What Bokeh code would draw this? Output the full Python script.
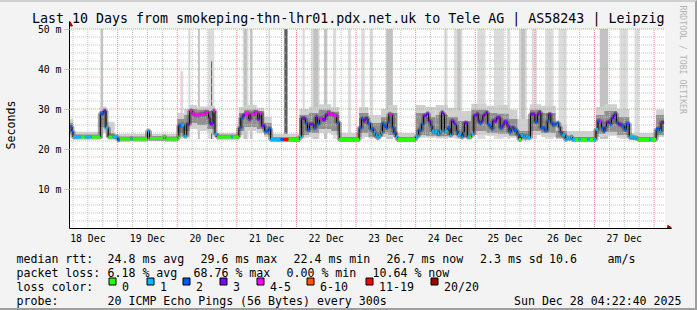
import math
from bokeh.plotting import figure
from bokeh.layouts import column
from bokeh.models import Range1d, FixedTicker, Title, ColumnDataSource
from bokeh.core.properties import value
from bokeh.embed import file_html
from bokeh.resources import INLINE

# ---------------- data (time in hours since 18 Dec 00:00) ----------------
T_START = 4 + 22 / 60 + 40 / 3600          # Thu 18 Dec 04:22:40
T_END = T_START + 240                      # Sun 28 Dec 04:22:40

day_labels = ["18 Dec", "19 Dec", "20 Dec", "21 Dec", "22 Dec",
              "23 Dec", "24 Dec", "25 Dec", "26 Dec", "27 Dec"]
day_label_hours = [12, 36, 60, 84, 108, 132, 156, 180, 204, 228]
y_ticks = [0, 10, 20, 30, 40, 50]
y_tick_labels = ["0\u00a0\u00a0", "10 m", "20 m", "30 m", "40 m", "50 m"]

# median rtt (ms) steps: start hour, value, lost pings (of 20)
med_t = [4.4, 5.6, 6.0, 9.2, 10.8, 13.6, 17.0, 18.4, 19.3, 20.2, 22.0, 24.0, 24.8, 29.2, 30.0,
         36.0, 36.8, 42.4, 43.2, 48.2, 48.6, 49.6, 50.8, 51.8, 53.0, 54.0, 54.8, 57.2, 59.2,
         60.6, 61.2, 62.4, 63.2, 64.0, 69.6, 70.4, 72.8, 73.6, 74.4, 75.2, 76.8, 77.6, 79.2,
         80.4, 81.2, 82.0, 83.2, 84.8, 85.6, 89.6, 90.8, 92.8, 97.2, 98.0, 99.6, 100.4, 101.2,
         103.0, 103.8, 104.4, 105.2, 106.4, 107.6, 108.4, 109.2, 111.0, 112.2, 113.2, 121.2,
         122.2, 122.8, 123.6, 124.8, 125.8, 127.0, 127.8, 128.4, 129.2, 130.0, 130.6, 131.2,
         132.0, 132.6, 133.2, 134.0, 134.6, 135.2, 136.0, 136.6, 144.0, 144.8, 145.2, 146.4,
         147.2, 148.4, 149.2, 150.0, 150.6, 151.6, 152.8, 153.6, 154.4, 155.0, 155.6, 157.0,
         157.8, 158.4, 159.2, 159.8, 160.4, 161.0, 161.8, 162.4, 163.0, 163.6, 164.8, 165.6,
         166.4, 167.4, 168.4, 169.2, 169.8, 170.4, 171.0, 171.8, 172.4, 173.0, 173.6, 174.4,
         175.0, 176.6, 178.0, 178.8, 179.6, 180.8, 181.6, 182.4, 183.0, 183.6, 184.8, 185.6,
         186.4, 187.4, 188.0, 188.4, 189.2, 190.2, 192.0, 193.0, 193.6, 194.4, 196.0, 197.0,
         197.6, 198.4, 199.2, 199.6, 200.8, 201.6, 202.2, 203.0, 204.2, 204.8, 205.6, 206.4,
         207.0, 208.2, 209.6, 210.4, 213.2, 214.0, 215.6, 216.6, 217.4, 218.0, 218.8, 219.6,
         220.2, 220.8, 221.6, 222.2, 222.8, 223.6, 224.2, 224.8, 225.6, 226.8, 228.0, 228.8,
         230.0, 231.6, 232.8, 233.6, 238.0, 238.8, 240.8, 241.6, 242.2, 242.8]
med_ms = [25.5, 24.5, 23.0, 23.0, 23.0, 23.0, 28.8, 29.5, 25.3, 23.0, 23.0, 22.3, 22.5, 22.6, 22.5,
          24.5, 22.6, 23.0, 22.5, 23.0, 25.8, 26.0, 23.2, 26.2, 29.5, 28.8, 28.5, 28.7, 29.2,
          27.8, 26.3, 29.5, 23.7, 23.0, 23.0, 23.0, 25.3, 27.7, 28.4, 28.8, 27.5, 28.7, 29.2,
          27.5, 28.8, 25.8, 24.5, 25.0, 22.4, 22.4, 22.4, 22.4, 23.0, 27.6, 26.5, 24.8, 26.2,
          25.3, 28.0, 26.3, 27.6, 27.4, 28.4, 29.0, 28.7, 28.4, 26.6, 22.4, 25.3,
          27.6, 27.0, 27.6, 26.3, 25.0, 24.1, 23.3, 22.8, 23.3, 24.1, 26.3, 25.8,
          25.3, 26.6, 28.7, 28.5, 25.3, 24.1, 23.0, 22.4, 23.0, 23.3, 24.7, 26.2,
          28.3, 28.8, 27.0, 25.8, 24.5, 24.3, 23.8, 24.5, 29.1, 28.7, 24.5, 25.3,
          23.5, 27.0, 26.5, 26.0, 24.5, 23.5, 23.8, 23.0, 24.2, 26.5, 23.0, 23.0,
          23.7, 28.3, 28.7, 27.0, 26.5, 27.0, 28.3, 28.7, 29.1, 26.3, 25.8, 25.1,
          27.0, 27.8, 25.3, 26.0, 26.8, 25.8, 24.3, 25.3, 25.3, 24.7, 23.7, 22.4,
          23.4, 23.0, 22.7, 23.2, 22.8, 28.7, 26.8, 28.7, 29.1, 25.3, 24.7, 27.0,
          28.7, 26.5, 26.0, 26.2, 26.5, 25.5, 24.1, 23.5, 22.4, 22.8, 22.6, 23.0,
          22.4, 22.4, 22.4, 22.4, 22.4, 22.4, 22.4, 24.9, 27.0, 26.8, 25.3, 24.5,
          25.5, 26.6, 26.8, 26.3, 27.7, 28.4, 28.8, 26.6, 26.2, 25.8, 24.9, 26.3,
          23.0, 22.8, 22.6, 22.4, 22.4, 22.4, 24.9, 25.1, 24.5, 26.6]
med_loss = [2, 2, 1, 0, 1, 0, 2, 3, 1, 0, 1, 2, 0, 1, 0,
            1, 0, 0, 0, 0, 2, 1, 1, 3, 4, 4, 4, 4, 4,
            3, 3, 4, 1, 0, 1, 0, 2, 2, 3, 4, 3, 4, 4,
            3, 4, 3, 2, 2, 1, 2, 12, 0, 1, 3, 2, 2, 3,
            2, 3, 2, 4, 3, 3, 4, 4, 4, 2, 0, 2,
            2, 3, 3, 2, 2, 1, 1, 1, 1, 1, 2, 2,
            2, 2, 4, 4, 2, 2, 1, 0, 1, 1, 2, 2,
            3, 3, 3, 2, 1, 1, 1, 1, 3, 3, 1, 2,
            1, 3, 3, 2, 2, 1, 1, 1, 2, 3, 1, 0,
            1, 3, 3, 3, 2, 3, 3, 3, 3, 2, 2, 2,
            3, 3, 2, 3, 3, 3, 2, 2, 3, 2, 2, 0,
            1, 1, 1, 1, 1, 3, 2, 3, 3, 2, 2, 2,
            3, 2, 2, 2, 2, 2, 2, 1, 1, 1, 1, 1,
            1, 0, 1, 0, 1, 0, 1, 1, 2, 4, 2, 2,
            2, 3, 3, 2, 3, 3, 2, 2, 3, 2, 2, 2,
            1, 1, 1, 0, 1, 0, 2, 2, 1, 3]
med_last = 244.0

# smoke (spread of the 20 pings): start, end, min, lower quartile, upper quartile, max (ms)
smoke_t0 = [4.4, 6.0, 16.8, 19.6, 22.8, 48.0, 50.8, 53.0, 56.0, 60.0, 63.2, 72.8, 75.0, 80.0,
            83.0, 86.0, 97.2, 101.0, 105.0, 110.0, 113.2, 121.2, 125.0, 130.0, 133.0, 136.6,
            144.0, 148.0, 152.0, 157.0, 161.0, 166.4, 172.5, 177.0, 181.5, 185.0, 190.0, 194.5,
            200.4, 204.8, 216.6, 220.0, 225.0, 230.0, 240.8]
smoke_t1 = [6.0, 16.8, 19.6, 22.8, 48.0, 50.8, 53.0, 56.0, 60.0, 63.2, 72.8, 75.0, 80.0, 83.0,
            86.0, 97.2, 101.0, 105.0, 110.0, 113.2, 121.2, 125.0, 130.0, 133.0, 136.6, 144.0,
            148.0, 152.0, 157.0, 161.0, 166.4, 172.5, 177.0, 181.5, 185.0, 190.0, 194.5, 200.4,
            204.8, 216.6, 220.0, 225.0, 230.0, 240.8, 244.0]
smoke_lo = [23.5, 22.9, 24.0, 23.0, 22.5, 23.2, 23.5, 25.0, 24.5, 24.0, 23.0, 23.5, 24.5, 24.0,
            23.0, 22.4, 22.8, 23.0, 24.0, 23.5, 22.4, 23.0, 22.6, 23.0, 23.0, 22.4,
            22.8, 22.8, 22.6, 22.8, 22.6, 23.5, 23.3, 23.0, 22.8, 22.5, 23.5, 23.0,
            22.5, 22.4, 23.0, 23.3, 22.8, 22.4, 23.0]
smoke_q1 = [24.0, 23.0, 25.5, 23.0, 22.5, 24.0, 24.5, 26.5, 26.0, 25.0, 23.0, 24.5, 25.5, 25.0,
            23.5, 22.4, 23.5, 24.0, 25.0, 24.5, 22.4, 24.0, 23.0, 23.8, 23.5, 22.4,
            23.5, 23.3, 23.2, 23.5, 23.0, 24.5, 24.0, 23.8, 23.3, 22.8, 24.5, 24.0,
            22.8, 22.4, 23.8, 24.3, 23.5, 22.4, 23.5]
smoke_q3 = [26.5, 23.3, 29.5, 24.0, 22.8, 27.5, 28.5, 30.0, 29.8, 29.5, 23.3, 29.0, 29.8, 29.5,
            26.5, 22.7, 28.5, 29.0, 29.8, 29.3, 22.7, 29.0, 26.5, 28.0, 29.0, 22.7,
            29.0, 28.0, 28.5, 28.0, 27.0, 29.8, 29.0, 28.8, 27.5, 24.5, 29.8, 29.0,
            24.5, 22.8, 28.5, 29.5, 28.0, 22.7, 28.5]
smoke_hi = [27.5, 24.3, 30.6, 26.8, 23.8, 29.0, 30.0, 31.0, 30.6, 30.8, 24.0, 30.5, 31.0, 30.3,
            28.0, 23.8, 30.0, 30.5, 31.2, 30.5, 24.0, 30.5, 28.5, 30.0, 31.0, 24.0,
            31.0, 30.5, 31.0, 30.3, 29.5, 31.3, 30.8, 31.0, 29.8, 27.5, 31.2, 30.8,
            26.0, 24.5, 30.5, 31.2, 30.0, 24.0, 29.8]

# pings far above the scale (shown as bars reaching the top): start, end, top (ms), how many
spike_t0 = [17.1, 49.2, 52.4, 56.3, 60.3, 61.6, 74.3, 74.8, 77.3, 84.7, 91.1, 98.4, 102.0, 102.8,
            107.1, 110.7, 116.7, 122.1, 125.5, 132.1, 155.5, 159.5, 160.8, 168.8, 175.5, 180.8,
            185.5, 186.4, 190.8, 196.1, 201.5, 218.1, 226.1, 232.1]
spike_t1 = [18.1, 50.4, 53.3, 57.1, 62.9, 62.0, 76.7, 76.0, 78.3, 85.3, 92.4, 99.3, 105.3, 104.8,
            108.4, 112.0, 118.0, 123.5, 126.8, 134.8, 156.8, 162.8, 162.0, 172.1, 179.5, 182.1,
            188.8, 188.0, 192.8, 199.5, 204.8, 221.5, 229.5, 234.1]
spike_top = [50, 39.5, 50, 50, 50, 42.0, 50, 50, 50, 50, 50, 50, 50, 50,
             50, 50, 50, 50, 50, 50, 50, 50, 50, 50, 50, 50,
             50, 50, 50, 50, 50, 50, 50, 50]
spike_level = [2, 1, 1, 2, 1, 3, 1, 2, 2, 1, 3, 1, 1, 2,
               2, 1, 1, 1, 1, 2, 1, 1, 2, 1, 1, 1,
               1, 2, 1, 1, 1, 2, 1, 1]

title_text = "Last 10 Days from smokeping-thn-lhr01.pdx.net.uk to Tele AG | AS58243 | Leipzig"
y_axis_title = "Seconds"
rtt_stats = ["24.8 ms avg", "29.6 ms max", "22.4 ms min", "26.7 ms now", "2.3 ms sd", "10.6", "am/s"]
loss_stats = ["6.18 % avg", "68.76 % max", "0.00 % min", "10.64 % now"]
loss_legend_labels = ["0", "1", "2", "3", "4-5", "6-10", "11-19", "20/20"]
loss_legend_colors = ["#26ff00", "#00b8ff", "#0059ff", "#7e00ff", "#ff00ff", "#ff5500", "#ff0000", "#a10000"]
probe_text = "20 ICMP Echo Pings (56 Bytes) every 300s"
date_text = "Sun Dec 28 04:22:40 2025"
watermark = "RRDTOOL / TOBI OETIKER"

# ---------------- layout / style ----------------
W, H = 697, 310
BT, BR, BB = 2, 2, 2                    # shaded outer border (top, right, bottom) in px
H_MAIN = 250                            # canvas rows 0..250 hold the graph
FONT = "DejaVu Sans Mono"
PX_H, PX_MS = 2.5, 4.0
F_LEFT, F_RIGHT, F_TOP, F_BOTTOM = 67, 673, 21, 228   # absolute canvas px
X0 = 4.6          # hour shown at the frame's left edge (aligns grid to pixel centres)
Y0 = 0.125        # ms shown at the frame's bottom edge
BG = "#f3f3f3"

p = figure(width=W - BR, height=H_MAIN - BT, output_backend="svg", toolbar_location=None,
           x_range=Range1d(X0, X0 + (F_RIGHT - F_LEFT) / PX_H),
           y_range=Range1d(Y0, Y0 + (F_BOTTOM - F_TOP) / PX_MS),
           min_border_left=F_LEFT, min_border_right=W - BR - F_RIGHT,
           min_border_top=F_TOP - BT, min_border_bottom=H_MAIN - F_BOTTOM)
p.frame_align = False
p.background_fill_color = BG
p.border_fill_color = BG
p.outline_line_color = None
p.grid.visible = False

# canvas
p.quad(left=[T_START], right=[T_END], bottom=[0], top=[50], fill_color="#ffffff", line_color=None)

# spikes
spike_colors = {1: "#dcdcdc", 2: "#c2c2c2", 3: "#5c5c5c"}
sp_src = ColumnDataSource(dict(l=spike_t0, r=spike_t1, t=spike_top, b=[22.5] * len(spike_t0),
                               c=[spike_colors[v] for v in spike_level]))
p.quad(left="l", right="r", top="t", bottom="b", fill_color="c", line_color=None, source=sp_src)

# smoke
sm_src = ColumnDataSource(dict(l=smoke_t0, r=smoke_t1, lo=smoke_lo, q1=smoke_q1, q3=smoke_q3, hi=smoke_hi))
p.quad(left="l", right="r", bottom="lo", top="hi", fill_color="#d0d0d0", line_color=None, source=sm_src)
p.quad(left="l", right="r", bottom="q1", top="q3", fill_color="#909090", line_color=None, source=sm_src)

# grid
minor_y = [v for v in range(2, 50, 2) if v % 10 != 0]
major_y = [10, 20, 30, 40, 50]
grid_h = [h for h in range(6, 246, 6) if T_START < h < T_END]
minor_x = [h for h in grid_h if h % 24 != 0]
major_x = [h for h in grid_h if h % 24 == 0]
GRID_C, MGRID_C = "#c4c4c4", "#eb8c8c"
p.segment(x0=[T_START] * len(minor_y), x1=[T_END] * len(minor_y), y0=minor_y, y1=minor_y,
          line_color=GRID_C, line_dash="1 1", line_width=1)
p.segment(x0=minor_x, x1=minor_x, y0=[0] * len(minor_x), y1=[50] * len(minor_x),
          line_color=GRID_C, line_dash="1 1", line_width=1)
p.segment(x0=[T_START] * len(major_y), x1=[T_END] * len(major_y), y0=major_y, y1=major_y,
          line_color=MGRID_C, line_dash="1 1", line_width=1)
p.segment(x0=major_x, x1=major_x, y0=[0] * len(major_x), y1=[50] * len(major_x),
          line_color=MGRID_C, line_dash="1 1", line_width=1)

# median
def loss_cat(n):
    if n <= 3:
        return n
    if n <= 5:
        return 4
    if n <= 10:
        return 5
    if n <= 19:
        return 6
    return 7

step_x = med_t + [med_last]
step_y = med_ms + [med_ms[-1]]
p.step(x=step_x, y=step_y, mode="after", line_color="#404040", line_width=5, line_alpha=0.45)
p.step(x=step_x, y=step_y, mode="after", line_color="#000000", line_width=1)
seg_src = ColumnDataSource(dict(x0=med_t, x1=med_t[1:] + [med_last], y=med_ms,
                                c=[loss_legend_colors[loss_cat(n)] for n in med_loss]))
p.segment(x0="x0", x1="x1", y0="y", y1="y", line_color="c", line_width=3, source=seg_src)

# axes
p.xaxis.ticker = FixedTicker(ticks=day_label_hours)
p.xaxis.major_label_overrides = {h: s for h, s in zip(day_label_hours, day_labels)}
p.yaxis.ticker = FixedTicker(ticks=y_ticks)
p.yaxis.major_label_overrides = {v: s for v, s in zip(y_ticks, y_tick_labels)}
for ax in (p.xaxis[0], p.yaxis[0]):
    ax.axis_line_color = "#000000"
    ax.major_label_text_font = FONT
    ax.major_label_text_font_size = "9.8px"
    ax.major_label_text_color = "#000000"
    ax.minor_tick_line_color = None
p.xaxis.major_tick_line_color = None
p.xaxis.major_tick_out = 0
p.xaxis.major_label_standoff = 4
p.yaxis.major_tick_out = 5
p.yaxis.major_tick_in = 0
p.yaxis.major_tick_line_color = MGRID_C
p.yaxis.major_tick_line_dash = "1 1"
p.yaxis.major_label_standoff = 3
p.yaxis.axis_label = y_axis_title
p.yaxis.axis_label_text_font = FONT
p.yaxis.axis_label_text_font_size = "11.6px"
p.yaxis.axis_label_text_font_style = "normal"
p.yaxis.axis_label_text_color = "#000000"
p.yaxis.axis_label_standoff = 17

# axis arrows
ARROW = "#a00000"
p.scatter(x=[X0], y=[51.2], marker="triangle", size=6, fill_color=ARROW, line_color=ARROW)
p.scatter(x=[X0 + 241.6], y=[Y0], marker="triangle", angle=-math.pi / 2, size=6,
          fill_color=ARROW, line_color=ARROW)

# title and watermark
p.title = Title(text=title_text, align="left", offset=-37.5, standoff=-8,
                text_font=FONT, text_font_size="13.3px", text_font_style="normal", text_color="#000000")
p.add_layout(Title(text=watermark, align="left", offset=-16, standoff=12,
                   text_font=FONT, text_font_size="8.2px", text_font_style="normal",
                   text_color="#b4b4b4"), "right")

# ---------------- legend block below the graph ----------------
leg = figure(width=W - BR, height=H - H_MAIN - BB, output_backend="svg", toolbar_location=None,
             x_range=Range1d(0, W - BR), y_range=Range1d(H - BB, H_MAIN),
             x_axis_location=None, y_axis_location=None,
             min_border_left=0, min_border_right=0, min_border_top=0, min_border_bottom=0)
leg.frame_align = False
leg.background_fill_color = BG
leg.border_fill_color = BG
leg.outline_line_color = None
leg.grid.visible = False

LX = 16
rows = [258, 272, 286, 300]
tx, ty, tt = [], [], []
def put(x, y, s):
    tx.append(x); ty.append(y); tt.append(s)

put(LX, rows[0], "median rtt:")
for x, s in zip([107, 200, 293, 386, 479.5, 548.5, 607], rtt_stats):
    put(x, rows[0], s)
put(LX, rows[1], "packet loss:")
for x, s in zip([107, 193, 286, 372], loss_stats):
    put(x, rows[1], s)
put(LX, rows[2], "loss color:")
box_x = [108.5, 146.5, 182.5, 219.5, 256.5, 306.5, 365.5, 430.5]
for x, s in zip(box_x, loss_legend_labels):
    put(x + 13, rows[2], s)
put(LX, rows[3], "probe:")
put(107, rows[3], probe_text)

leg.text(x=tx, y=ty, text=tt, text_font=value(FONT), text_font_size=value("11.6px"),
         text_color="#000000", text_baseline="alphabetic", text_align="left")
leg.text(x=[681], y=[rows[3]], text=[date_text], text_font=value(FONT), text_font_size=value("11.6px"),
         text_color="#000000", text_baseline="alphabetic", text_align="right")
leg.quad(left=box_x, right=[x + 7 for x in box_x], top=[277.5] * len(box_x), bottom=[284.5] * len(box_x),
         fill_color=loss_legend_colors, line_color="#000000", line_width=1)

layout = column(p, leg, spacing=0,
                styles={"border-style": "solid",
                        "border-width": f"{BT}px {BR}px {BB}px 0px",
                        "border-color": "#cfcfcf #9e9e9e #9e9e9e #cfcfcf",
                        "background-color": BG})
open("out.html", "w").write(file_html(layout, INLINE))
